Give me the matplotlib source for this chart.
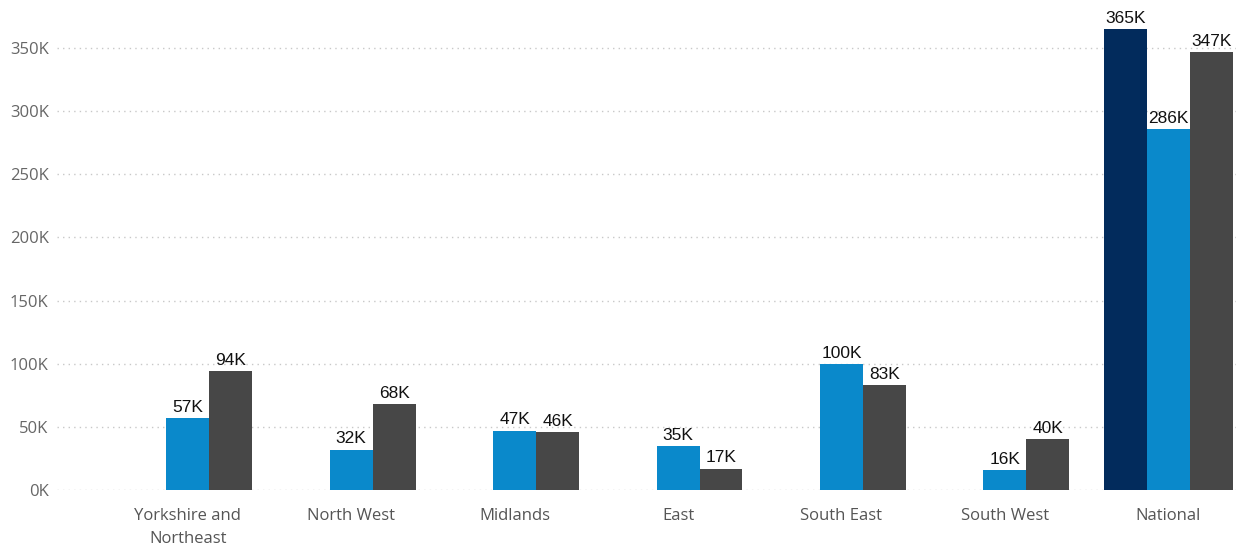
import numpy as np
import matplotlib.pyplot as plt
from matplotlib.ticker import FuncFormatter

regions = ['Yorkshire and\nNortheast', 'North West', 'Midlands', 'East',
           'South East', 'South West', 'National']
# first series only exists for the national total
serie_a = [np.nan, np.nan, np.nan, np.nan, np.nan, np.nan, 365]
serie_b = [57, 32, 47, 35, 100, 16, 286]
serie_c = [94, 68, 46, 17, 83, 40, 347]

colores = ['#022b5c', '#0a89cb', '#474747']

fig = plt.figure(figsize=(12.41, 5.49), dpi=100)
ax = fig.add_axes([0.046, 0.1075, 0.95, 0.8925])

x = np.arange(len(regions))
ancho = 0.263

for offset, vals, color in zip([-ancho, 0, ancho], [serie_a, serie_b, serie_c], colores):
    vals = np.array(vals, dtype=float)
    ok = ~np.isnan(vals)
    ax.bar(x[ok] + offset, vals[ok] * 1000, width=ancho, color=color, zorder=3)
    for xi, v in zip(x[ok] + offset, vals[ok]):
        ax.text(xi, v * 1000 + 2500, f'{v:.0f}K', ha='center', va='bottom',
                fontsize=12.5, family='Liberation Sans', color='#111111', zorder=4)

ax.set_xlim(-0.80, 6.415)
ax.set_ylim(0, 388000)
ax.set_yticks(np.arange(0, 350001, 50000))
ax.yaxis.set_major_formatter(FuncFormatter(lambda v, p: f'{v/1000:.0f}K'))
ax.set_xticks(x)
ax.set_xticklabels(regions, fontsize=12, color='#555555', family='Open Sans',
                   linespacing=1.55)
for lab in ax.get_yticklabels():
    lab.set_fontsize(12)
    lab.set_color('#666666')
    lab.set_family('Open Sans')

ax.grid(axis='y', linestyle=(0, (1, 3)), color='#c8c8c8', linewidth=1, zorder=0)
ax.tick_params(axis='y', length=0, pad=6)
ax.tick_params(axis='x', length=0, pad=13)
for s in ax.spines.values():
    s.set_visible(False)

fig.savefig('out.png', dpi=100)
